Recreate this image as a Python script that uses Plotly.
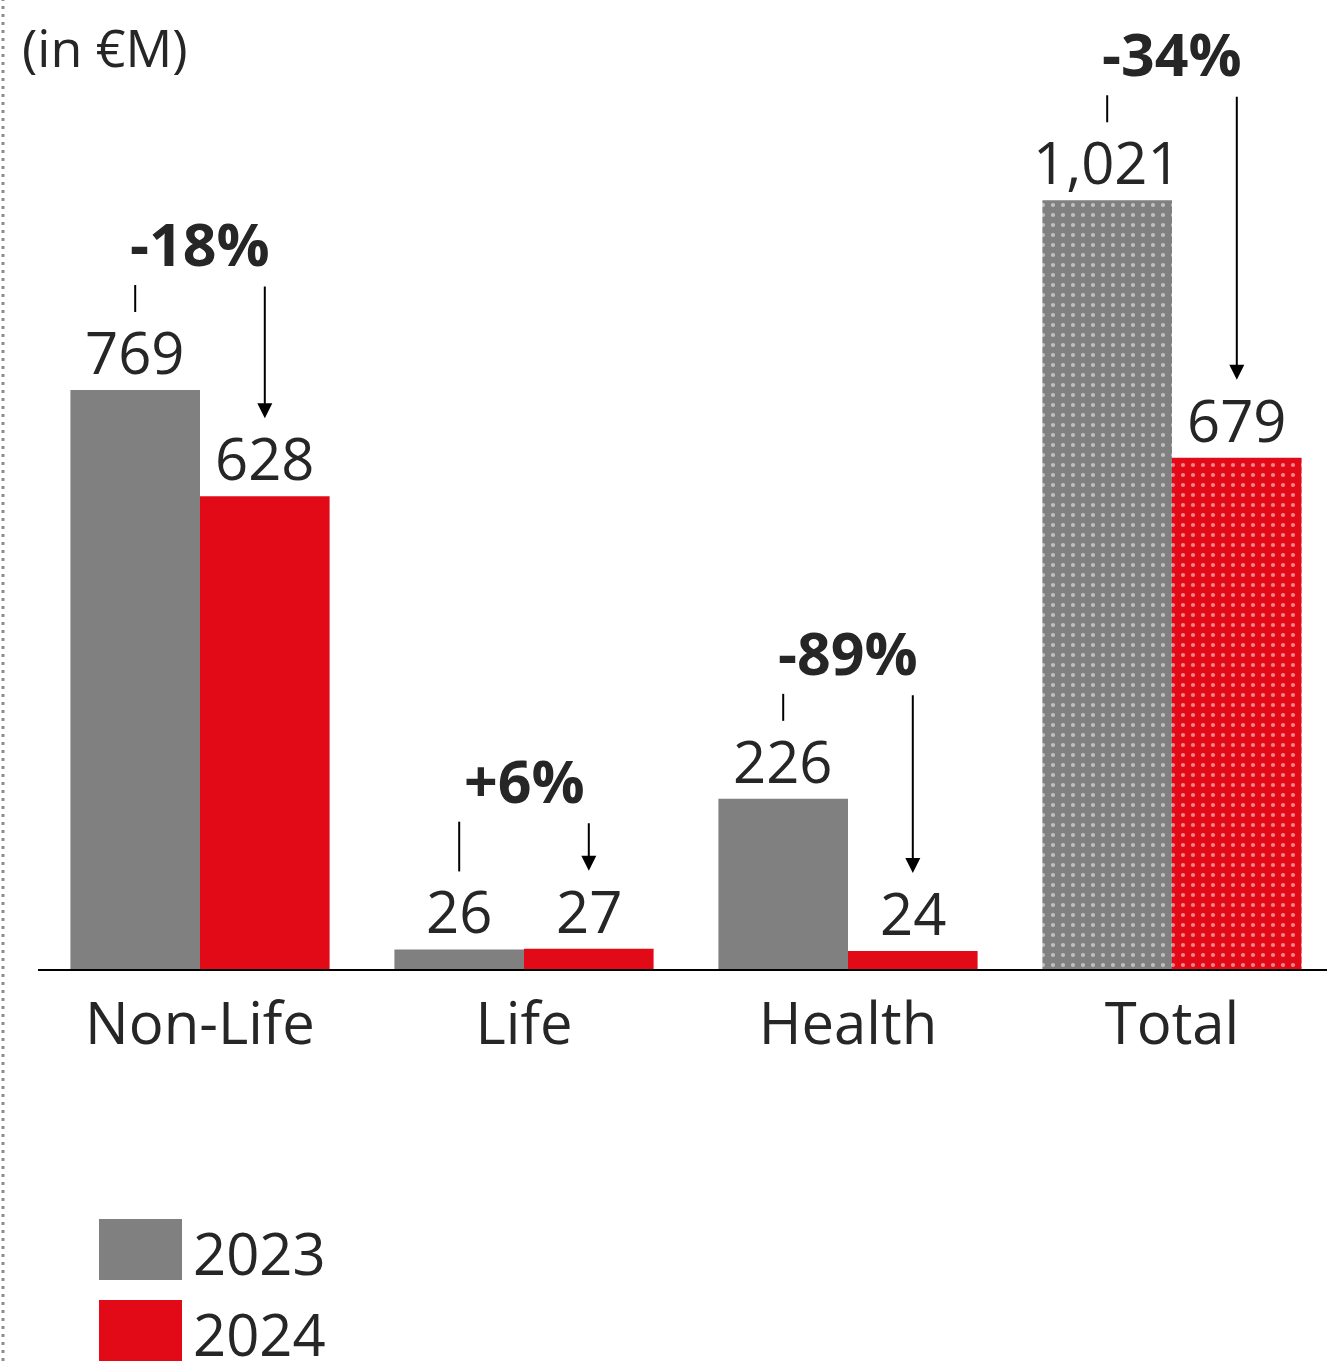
import plotly.graph_objects as go

categories = ["Non-Life", "Life", "Health", "Total"]
values_2023 = [769, 26, 226, 1021]
values_2024 = [628, 27, 24, 679]
pct_labels = ["-18%", "+6%", "-89%", "-34%"]
series_names = ["2023", "2024"]

GRAY = "#808080"
RED = "#E20A17"
TEXT = "#262626"
FONT = "Open Sans"

W, H = 1327, 1361
M_L, M_R, M_T, M_B = 38, 0, 0, 392
PLOT_H = H - M_T - M_B
Y_MAX = 1287
K = PLOT_H / Y_MAX  # px per unit

xs = list(range(len(categories)))
OFF = 0.2

def fmt(v):
    return f"{v:,}"

fig = go.Figure()
fig.add_trace(go.Bar(
    x=xs, y=values_2023, name=series_names[0], offset=-0.4, width=0.4,
    marker=dict(color=GRAY, line=dict(width=0),
                pattern=dict(shape=["", "", "", "."], fgcolor="white", bgcolor=GRAY, size=10, solidity=0.14, fillmode="overlay")),
    hoverinfo="skip",
))
fig.add_trace(go.Bar(
    x=xs, y=values_2024, name=series_names[1], offset=0.0, width=0.4,
    marker=dict(color=RED, line=dict(width=0),
                pattern=dict(shape=["", "", "", "."], fgcolor="white", bgcolor=RED, size=10, solidity=0.14, fillmode="overlay")),
    hoverinfo="skip",
))

annotations = []
shapes = []

TIP_OFF = 78
TOP_GAP = 105
MIN_ARROW = 49

for i, (v1, v2, pct) in enumerate(zip(values_2023, values_2024, pct_labels)):
    top1, top2 = v1 * K, v2 * K
    tip2 = top2 + TIP_OFF
    line_top = max(max(top1, top2) + TOP_GAP, tip2 + MIN_ARROW)
    # value labels
    for v, dx in ((v1, -OFF), (v2, OFF)):
        annotations.append(dict(x=i + dx, y=v, xref="x", yref="y", text=fmt(v), showarrow=False,
                                yanchor="bottom", xanchor="center", yshift=-3,
                                font=dict(family=FONT, size=58, color=TEXT)))
    # left tick line
    shapes.append(dict(type="line", xref="x", yref="y", ysizemode="pixel", yanchor=v1,
                       x0=i - OFF, x1=i - OFF, y0=TIP_OFF, y1=line_top - top1,
                       line=dict(color="black", width=2)))
    # arrow
    annotations.append(dict(x=i + OFF, y=v2, xref="x", yref="y", text="", showarrow=True,
                            ax=0, ay=-(line_top - tip2), axref="pixel", ayref="pixel",
                            yshift=TIP_OFF, arrowhead=2, arrowsize=1.5, arrowwidth=2,
                            arrowcolor="black"))
    # percent label
    annotations.append(dict(x=i, y=0, xref="x", yref="y", text=f"<b>{pct}</b>", showarrow=False,
                            yanchor="bottom", xanchor="center", yshift=line_top,
                            font=dict(family=FONT, size=59, color=TEXT)))

PW = W - M_L - M_R
def px_x(px):
    return (px - M_L) / PW
def px_y(py):
    return (PLOT_H + M_T - py) / PLOT_H

# unit label
annotations.append(dict(x=px_x(20), y=px_y(46), xref="paper", yref="paper",
                        text="(in €M)", showarrow=False, xanchor="left", yanchor="middle",
                        font=dict(family=FONT, size=52, color=TEXT)))

# custom legend
for name, col, y0 in ((series_names[0], GRAY, 1219), (series_names[1], RED, 1300)):
    shapes.append(dict(type="rect", xref="paper", yref="paper", x0=px_x(99), x1=px_x(182),
                       y0=px_y(y0 + 61), y1=px_y(y0), fillcolor=col, line=dict(width=0), layer="above"))
    annotations.append(dict(x=px_x(191), y=px_y(y0 + 33), xref="paper", yref="paper", text=name,
                            showarrow=False, xanchor="left", yanchor="middle",
                            font=dict(family=FONT, size=58, color=TEXT)))

# left dotted border
shapes.append(dict(type="line", xref="paper", yref="paper", x0=px_x(3), x1=px_x(3), y0=px_y(H), y1=px_y(0),
                   line=dict(color="#8c8c8c", width=3, dash="3px,5px")))

fig.update_layout(
    width=W, height=H,
    margin=dict(l=M_L, r=M_R, t=M_T, b=M_B, pad=0),
    paper_bgcolor="white", plot_bgcolor="white",
    showlegend=False,
    barmode="overlay",
    annotations=annotations,
    shapes=shapes,
    font=dict(family=FONT, color=TEXT),
    xaxis=dict(range=[-0.5, -0.5 + PW / 324.0], tickvals=xs, ticktext=categories,
               tickfont=dict(family=FONT, size=58, color=TEXT), showgrid=False, zeroline=False,
               showline=True, linecolor="black", linewidth=2, ticks="", ticklabelstandoff=3,
               fixedrange=True),
    yaxis=dict(range=[0, Y_MAX], visible=False, showgrid=False, zeroline=False, fixedrange=True),
)

fig.write_html("out.html", config={"displayModeBar": False},
               post_script="document.body.style.margin='0';document.body.style.overflow='hidden';")
